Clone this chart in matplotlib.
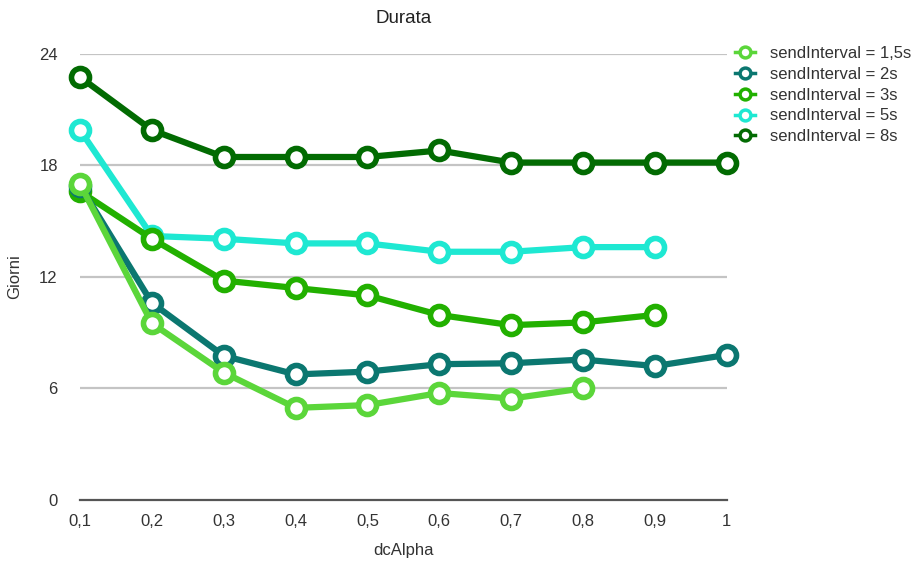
import matplotlib
matplotlib.use("Agg")
import matplotlib.pyplot as plt

plt.rcParams["font.family"] = ["Liberation Sans", "DejaVu Sans"]

dc_alpha = [0.1, 0.2, 0.3, 0.4, 0.5, 0.6, 0.7, 0.8, 0.9, 1.0]
x_tick_labels = ["0,1", "0,2", "0,3", "0,4", "0,5", "0,6", "0,7", "0,8", "0,9", "1"]
y_ticks = [0, 6, 12, 18, 24]

labels = ["sendInterval = 1,5s", "sendInterval = 2s", "sendInterval = 3s",
          "sendInterval = 5s", "sendInterval = 8s"]
s_1_5 = [17.0, 9.5, 6.85, 4.95, 5.1, 5.75, 5.45, 6.0]
s_2 = [16.9, 10.6, 7.75, 6.75, 6.9, 7.3, 7.35, 7.55, 7.2, 7.8]
s_3 = [16.6, 14.05, 11.8, 11.4, 11.0, 9.95, 9.4, 9.55, 9.95]
s_5 = [19.9, 14.2, 14.05, 13.8, 13.8, 13.35, 13.35, 13.6, 13.6]
s_8 = [22.75, 19.9, 18.45, 18.45, 18.45, 18.8, 18.15, 18.15, 18.15, 18.15]
series = [s_1_5, s_2, s_3, s_5, s_8]
colors = ["#5bd63a", "#0b7770", "#22b000", "#1ee8d2", "#026b02"]

fig = plt.figure(figsize=(9.2, 5.61), dpi=100)
ax = fig.add_axes([0.087, 0.109, 0.703, 0.795])

for v in y_ticks[1:]:
    ax.axhline(v, color="#c4c4c4", lw=1.6, zorder=0)

order = [4, 3, 2, 1, 0]
handles = {}
for i in order:
    ys = series[i]
    h, = ax.plot(dc_alpha[:len(ys)], ys, color=colors[i], lw=4.5,
                 marker="o", ms=13, mfc="white", mec=colors[i], mew=4,
                 clip_on=False, zorder=3 + (5 - i) * 0.1 if i != 0 else 4)
    handles[i] = h

ax.set_xlim(0.1, 1.0)
ax.set_ylim(0, 24)
ax.set_xticks(dc_alpha)
ax.set_xticklabels(x_tick_labels)
ax.set_yticks(y_ticks)
ax.tick_params(length=0, labelsize=12, colors="#333333", pad=10)
ax.tick_params(axis="y", pad=16)
for s in ["top", "right", "left"]:
    ax.spines[s].set_visible(False)
ax.spines["bottom"].set_color("#555555")
ax.spines["bottom"].set_linewidth(1.6)

ax.set_title("Durata", fontsize=13.5, color="#222222", pad=22)
ax.set_xlabel("dcAlpha", fontsize=12, color="#333333", labelpad=10)
ax.set_ylabel("Giorni", fontsize=12, color="#333333")
ax.yaxis.set_label_coords(-0.09, 0.5)

leg = fig.legend([handles[i] for i in range(5)], labels,
                 loc="upper left", bbox_to_anchor=(0.783, 0.945),
                 frameon=False, fontsize=12, handlelength=1.2,
                 handletextpad=0.9, labelspacing=0.35,
                 markerscale=0.6)
for line in leg.get_lines():
    line.set_linewidth(2.5)
    line.set_markeredgewidth(2.5)
for t in leg.get_texts():
    t.set_color("#333333")

fig.savefig("out.png", dpi=100)
